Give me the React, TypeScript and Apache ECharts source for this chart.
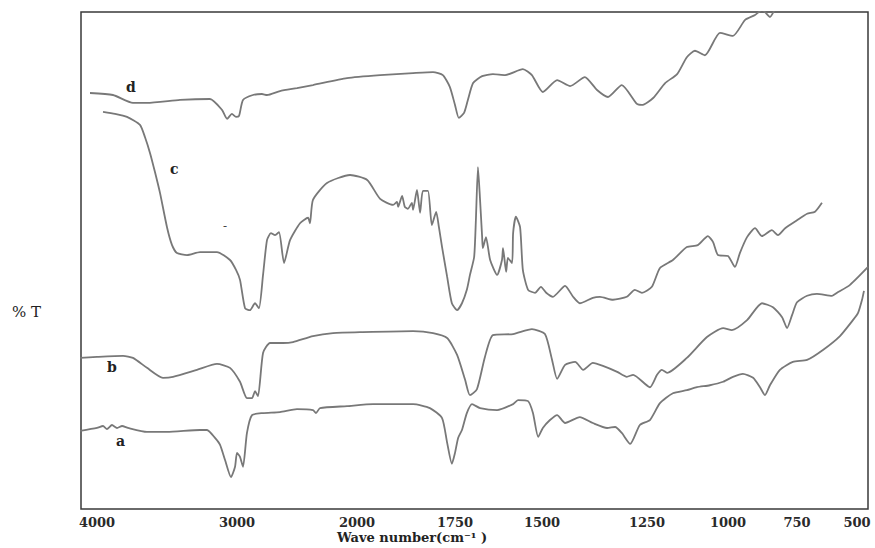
import React, { useEffect, useRef } from "react";
import * as echarts from "echarts";

// Wavenumber tick labels (cm-1) and their places on the (non-linear) printed axis scale
const tickLabels = [4000, 3000, 2000, 1750, 1500, 1250, 1000, 750, 500];
const tickScale = [16, 156, 276, 374, 461, 566, 647, 716, 776];
const axisSpan = 787;

// Spectra: [wavenumber cm-1, %T (arbitrary offset units)]
const curveD: [number, number][] = [
  [4050, 83.7], [3886, 83.3], [3743, 81.7], [3643, 81.7], [3407, 82.3], [3193, 82.5],
  [3107, 80.3], [3071, 78.5], [3036, 79.5], [3007, 78.9], [2983, 79.1], [2950, 82.3],
  [2867, 83.3], [2792, 83.5], [2750, 83.3], [2642, 84.1], [2500, 84.7], [2367, 85.3],
  [2083, 86.7], [1941, 87.3], [1857, 87.7], [1806, 87.9], [1781, 87.3], [1763, 84.9],
  [1750, 81.3], [1739, 78.7], [1724, 79.7], [1713, 82.3], [1698, 85.7], [1672, 87.1],
  [1641, 87.5], [1606, 87.3], [1555, 88.5], [1529, 87.3], [1498, 83.9], [1464, 86.3],
  [1433, 85.1], [1398, 86.9], [1369, 84.3], [1343, 82.9], [1310, 85.3], [1274, 81.5],
  [1262, 81.3], [1231, 82.7], [1194, 85.7], [1157, 87.5], [1127, 90.9], [1102, 92.2],
  [1071, 91.3], [1025, 95.8], [982, 95.2], [938, 98.4], [902, 99.4], [877, 100.4],
  [866, 100], [848, 99.0], [830, 100.6],
];

const curveC: [number, number][] = [
  [3957, 79.9], [3871, 79.5], [3786, 78.9], [3693, 77.3], [3657, 74.8], [3621, 71.6],
  [3586, 67.8], [3550, 63.6], [3500, 56.7], [3464, 53.1], [3429, 51.5], [3357, 51.1],
  [3264, 51.7], [3143, 51.7], [3050, 50.1], [3007, 48.1], [2975, 46.1], [2933, 40.4],
  [2892, 40.0], [2850, 41.4], [2817, 40.4], [2783, 47.1], [2750, 54.1], [2717, 55.5],
  [2683, 55.1], [2650, 55.7], [2608, 49.5], [2558, 54.1], [2475, 57.5], [2408, 58.6],
  [2392, 57.5], [2367, 62.2], [2250, 65.6], [2058, 67.2], [1974, 66.2], [1941, 62.4],
  [1908, 61.2], [1898, 61.8], [1895, 60.8], [1885, 63.0], [1878, 60.8], [1870, 60.4],
  [1860, 61.6], [1857, 60.2], [1847, 64.2], [1839, 59.6], [1832, 64.0], [1819, 64.0],
  [1809, 57.1], [1798, 59.8], [1791, 56.7], [1783, 52.7], [1770, 46.7], [1758, 41.4],
  [1744, 40.0], [1730, 41.4], [1716, 44.1], [1707, 47.1], [1695, 50.7], [1690, 58.1],
  [1684, 68.8], [1678, 62.2], [1672, 54.7], [1670, 52.5], [1661, 54.7], [1649, 50.1],
  [1629, 47.1], [1615, 50.1], [1612, 52.5], [1603, 47.7], [1598, 50.5], [1586, 49.5],
  [1583, 55.5], [1575, 58.8], [1563, 56.7], [1555, 48.1], [1540, 44.1], [1520, 43.5],
  [1503, 44.7], [1490, 43.5], [1474, 42.7], [1445, 44.9], [1426, 42.7], [1410, 41.4],
  [1379, 42.5], [1362, 42.7], [1331, 42.1], [1298, 42.7], [1279, 44.1], [1262, 43.5],
  [1235, 44.7], [1210, 48.5], [1170, 50.1], [1127, 52.7], [1093, 53.1], [1062, 54.9],
  [1046, 53.7], [1031, 51.1], [1000, 50.9], [975, 48.7], [957, 51.5], [931, 54.7],
  [902, 56.5], [877, 54.9], [841, 56.1], [819, 55.1], [793, 56.5], [750, 58.1],
  [708, 59.4], [675, 59.8], [646, 61.6],
];

const curveB: [number, number][] = [
  [4121, 30.4], [4000, 30.6], [3814, 30.8], [3743, 30.4], [3643, 28.4], [3529, 26.4],
  [3457, 26.6], [3286, 28.0], [3143, 29.2], [3050, 28.4], [2975, 25.6], [2917, 22.3],
  [2875, 22.3], [2850, 23.7], [2825, 22.7], [2783, 31.4], [2725, 33.4], [2617, 33.4],
  [2533, 33.6], [2367, 34.8], [2200, 35.4], [1985, 35.6], [1857, 35.8], [1806, 35.4],
  [1770, 34.4], [1744, 31.0], [1721, 26.0], [1707, 22.9], [1687, 24.1], [1664, 30.6],
  [1641, 35.0], [1583, 35.2], [1529, 36.2], [1493, 35.2], [1476, 30.0], [1464, 26.2],
  [1445, 29.0], [1421, 29.6], [1402, 28.0], [1379, 29.4], [1355, 28.8], [1321, 27.6],
  [1298, 26.6], [1283, 27.0], [1241, 24.5], [1219, 27.0], [1204, 28.0], [1188, 27.4],
  [1127, 30.4], [1065, 34.6], [1015, 36.4], [986, 36.0], [931, 38.0], [877, 41.4],
  [837, 40.6], [804, 38.6], [786, 36.4], [768, 39.0], [750, 41.6], [708, 42.9],
  [667, 43.3], [604, 42.9], [583, 43.5], [529, 45.1], [454, 48.7],
];

const curveA: [number, number][] = [
  [4121, 15.7], [4000, 16.3], [3957, 16.7], [3929, 16.1], [3893, 16.9], [3857, 16.3],
  [3821, 16.7], [3779, 16.3], [3643, 15.5], [3500, 15.5], [3264, 15.9], [3214, 15.9],
  [3157, 14.3], [3121, 12.9], [3086, 9.9], [3043, 6.4], [3014, 8.5], [3000, 11.3],
  [2975, 10.5], [2950, 8.5], [2917, 15.3], [2875, 18.9], [2783, 19.3], [2642, 19.5],
  [2500, 20.1], [2367, 19.9], [2342, 19.3], [2308, 20.3], [2083, 20.7], [1959, 21.1],
  [1857, 21.1], [1814, 20.3], [1783, 18.3], [1770, 13.3], [1758, 9.1], [1750, 11.3],
  [1741, 14.3], [1730, 15.9], [1716, 19.3], [1701, 21.1], [1678, 20.3], [1629, 19.9],
  [1583, 21.1], [1569, 21.9], [1540, 21.7], [1526, 19.3], [1511, 14.5], [1498, 16.3],
  [1481, 17.9], [1464, 18.9], [1445, 17.3], [1410, 18.5], [1379, 17.3], [1345, 16.3],
  [1326, 16.5], [1310, 15.3], [1290, 13.1], [1267, 16.9], [1241, 17.9], [1210, 21.3],
  [1170, 23.3], [1127, 23.9], [1096, 24.5], [1056, 24.9], [1015, 25.6], [982, 26.6],
  [946, 27.2], [909, 26.4], [884, 24.5], [866, 22.9], [848, 24.9], [812, 28.0],
  [765, 29.6], [708, 30.0], [642, 32.0], [571, 34.8], [517, 38.0], [496, 39.4],
  [479, 42.1], [471, 43.9],
];

// piecewise-linear wavenumber -> axis scale, as printed on the figure
function toScale(wn: number): number {
  const n = tickLabels.length;
  if (wn >= tickLabels[0]) {
    const slope = (tickScale[1] - tickScale[0]) / (tickLabels[0] - tickLabels[1]);
    return tickScale[0] - (wn - tickLabels[0]) * slope;
  }
  if (wn <= tickLabels[n - 1]) {
    const slope = (tickScale[n - 1] - tickScale[n - 2]) / (tickLabels[n - 2] - tickLabels[n - 1]);
    return tickScale[n - 1] + (tickLabels[n - 1] - wn) * slope;
  }
  for (let i = 0; i < n - 1; i++) {
    const a = tickLabels[i], b = tickLabels[i + 1];
    if (wn <= a && wn >= b) {
      const t = (a - wn) / (a - b);
      return tickScale[i] + t * (tickScale[i + 1] - tickScale[i]);
    }
  }
  return 0;
}

const serif = "'DejaVu Serif', 'Liberation Serif', serif";
const lineColor = "#787878";

export default function App() {
  const ref = useRef<HTMLDivElement>(null);
  useEffect(() => {
    if (!ref.current) return;
    const chart = echarts.init(ref.current, undefined, { renderer: "svg" });
    const mk = (name: string, pts: [number, number][]) => ({
      name,
      type: "line",
      data: pts.map(([w, t]) => [toScale(w), t]),
      showSymbol: false,
      smooth: 0.2,
      clip: true,
      lineStyle: { color: lineColor, width: 1.8 },
      itemStyle: { color: lineColor },
    });
    chart.setOption({
      animation: false,
      backgroundColor: "#ffffff",
      grid: {
        left: 81, right: 7, top: 12, bottom: 39,
        show: true, borderColor: "#3a3a3a", borderWidth: 1.5,
      },
      xAxis: {
        type: "value",
        min: 0,
        max: axisSpan,
        axisLine: { show: false },
        axisTick: { show: false },
        splitLine: { show: false },
        axisLabel: {
          customValues: tickScale,
          margin: 6,
          fontFamily: serif,
          fontSize: 13,
          fontWeight: "bold",
          color: "#2a2a2a",
          lineHeight: 14,
          formatter: (v: number) => {
            const i = tickScale.findIndex((p) => Math.abs(p - v) < 0.5);
            return i >= 0 ? String(tickLabels[i]) : "";
          },
        },
      },
      yAxis: {
        type: "value",
        min: 0,
        max: 100,
        axisLine: { show: false },
        axisTick: { show: false },
        axisLabel: { show: false },
        splitLine: { show: false },
      },
      series: [mk("a", curveA), mk("b", curveB), mk("c", curveC), mk("d", curveD)],
      graphic: [
        { type: "text", left: 12, top: 304, style: { text: "% T", font: `15px ${serif}`, fill: "#222" } },
        { type: "text", left: 337, top: 531, style: { text: "Wave number(cm⁻¹ )", font: `bold 13px ${serif}`, fill: "#222" } },
        { type: "text", left: 126, top: 80, style: { text: "d", font: `bold 14px ${serif}`, fill: "#222" } },
        { type: "text", left: 170, top: 162, style: { text: "c", font: `bold 14px ${serif}`, fill: "#222" } },
        { type: "text", left: 107, top: 360, style: { text: "b", font: `bold 14px ${serif}`, fill: "#222" } },
        { type: "text", left: 116, top: 434, style: { text: "a", font: `bold 14px ${serif}`, fill: "#222" } },
        { type: "text", left: 223, top: 220, style: { text: "-", font: `12px ${serif}`, fill: "#444" } },
      ],
    });
    return () => chart.dispose();
  }, []);
  return (
    <div
      ref={ref}
      style={{ position: "fixed", left: 0, top: 0, width: 875, height: 548, background: "#fff" }}
    />
  );
}
